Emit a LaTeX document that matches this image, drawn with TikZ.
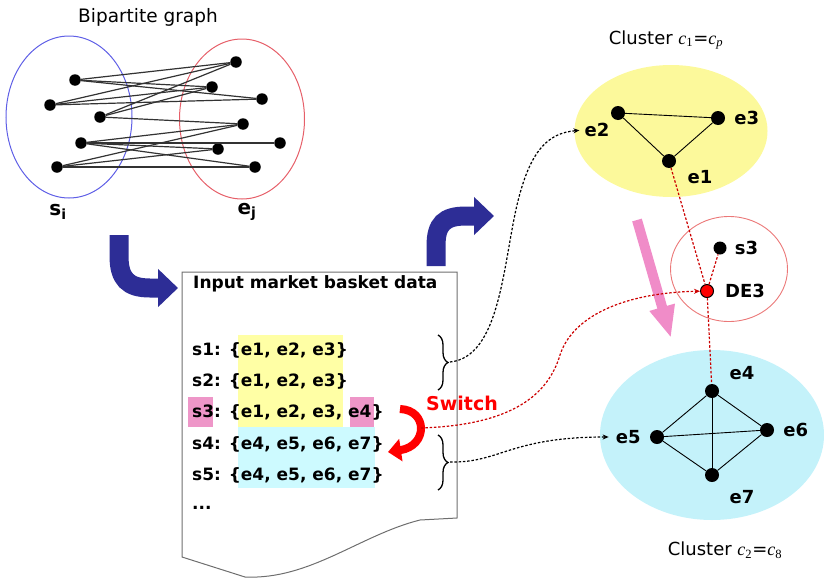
\documentclass[tikz,border=0pt]{standalone}
\usepackage{fontspec}
\setmainfont{DejaVu Sans}
\newfontfamily\symfont{Liberation Serif}
\newcommand{\csym}[1]{{\symfont\itshape c}\textsubscript{\symfont #1}}
\usepackage{tikz}
\usetikzlibrary{shapes.geometric, arrows.meta, positioning, decorations.pathreplacing, calc}
\definecolor{bigblue}{RGB}{45,45,150}
\definecolor{setblue}{RGB}{95,95,230}
\definecolor{setred}{RGB}{230,95,105}
\definecolor{clyellow}{RGB}{252,249,155}
\definecolor{clcyan}{RGB}{196,242,250}
\definecolor{hlyellow}{RGB}{255,255,165}
\definecolor{hlcyan}{RGB}{205,250,255}
\definecolor{hlpink}{RGB}{238,150,200}
\definecolor{pinkarrow}{RGB}{240,140,200}
\definecolor{ringred}{RGB}{235,120,120}
\definecolor{docgray}{RGB}{110,110,110}

\begin{document}
\begin{tikzpicture}[
    x=1pt, y=-1pt,
    every node/.style={font=\fontsize{17}{19}\selectfont},
    dot/.style={circle, fill=black, inner sep=0pt, minimum size=11.5pt},
    bigdot/.style={circle, fill=black, inner sep=0pt, minimum size=14pt},
    lbl/.style={font=\fontsize{18}{20}\selectfont\bfseries, inner sep=1pt},
    row/.style={font=\fontsize{17}{19}\selectfont\bfseries, anchor=west, inner sep=0pt},
    heading/.style={font=\fontsize{18}{20}\selectfont},
    blkdash/.style={-{Stealth[length=6pt,width=5pt]}, dash pattern=on 2.5pt off 1.8pt, line width=1.2pt},
    reddash/.style={red!80!black, dash pattern=on 2.5pt off 1.8pt, line width=1.2pt},
    fatarrow/.style={bigblue, line width=19pt, -{Triangle[length=20pt,width=37pt]}},
    brc/.style={decorate, decoration={brace, amplitude=10pt}, line width=1.3pt}
]
\useasboundingbox (0,0) rectangle (824,581);

% Bipartite graph
\node[heading, font=\fontsize{18.5}{20}\selectfont] (bptitle) at (148,17) {Bipartite graph};
\node[ellipse, draw=setblue, line width=1pt, minimum width=126pt, minimum height=162pt] (sset) at (69,117) {};
\node[ellipse, draw=setred, line width=1pt, minimum width=125pt, minimum height=160pt] (eset) at (242,119) {};
\node[dot] (u1) at (75,80) {};
\node[dot] (u2) at (50,105) {};
\node[dot] (u3) at (100,117) {};
\node[dot] (u4) at (81,143) {};
\node[dot] (u5) at (57,167) {};
\node[dot] (v1) at (236,62) {};
\node[dot] (v2) at (212,87) {};
\node[dot] (v3) at (262,99) {};
\node[dot] (v4) at (243,124) {};
\node[dot] (v5) at (218,149) {};
\node[dot] (v6) at (280,143) {};
\node[dot] (v7) at (255,167) {};
\foreach \a/\b in {u1/v1, u1/v2, u1/v3, u2/v1, u2/v2, u2/v3, u3/v1, u3/v2, u3/v4,
                   u4/v4, u4/v5, u4/v6, u4/v7, u5/v4, u5/v5, u5/v7}
  \draw[black!80, line width=1.2pt] (\a) -- (\b);
\node[font=\fontsize{20}{22}\selectfont\bfseries] (slbl) at (58,212) {s\textsubscript{i}};
\node[font=\fontsize{20}{22}\selectfont\bfseries] (elbl) at (247,212) {e\textsubscript{j}};

% Document
\coordinate (dtl) at (182,272);
\coordinate (dtr) at (457,272);
\draw[docgray, line width=1pt] (dtl) -- (dtr) -- (457,518) -- (420,520)
    .. controls (360,535) and (310,580) .. (245,577) -- (182,557) -- cycle;
\fill[hlyellow] (238,335) rectangle (343,427);
\fill[hlcyan] (238,427) rectangle (375,488);
\fill[hlpink] (188,397) rectangle (213,427);
\fill[hlpink] (350,397) rectangle (374,427);
\node[row] (doctitle) at (193,284) {Input market basket data};
\node[row] (r1) at (192,350) {s1: \{e1, e2, e3\}};
\node[row] (r2) at (192,381) {s2: \{e1, e2, e3\}};
\node[row] (r3) at (192,412) {s3: \{e1, e2, e3, e4\}};
\node[row] (r4) at (192,444) {s4: \{e4, e5, e6, e7\}};
\node[row] (r5) at (192,475) {s5: \{e4, e5, e6, e7\}};
\node[row] (rdots) at (192,508) {...};
\draw[brc] (438,335) -- (438,390);
\draw[brc] (438,435) -- (438,490);
\coordinate (b1) at (450,362);
\coordinate (b2) at (450,462);

% Big arrows
\coordinate (bpout) at (119,235);
\coordinate (docin) at (178,288);
\draw[fatarrow] (bpout) -- (119,256) .. controls (119,279) and (128,288) .. (150,288) -- (docin);
\coordinate (docout) at (436,266);
\coordinate (clin) at (494,216);
\draw[fatarrow] (docout) -- (436,246) .. controls (436,224) and (444,216) .. (466,216) -- (clin);
\coordinate (swin) at (400,409);
\coordinate (swout) at (388,452);
\draw[red, line width=8pt, -{Triangle[length=13pt,width=22pt]}] (swin) .. controls (428,410) and (428,446) .. (swout);
\node[text=red, font=\fontsize{19}{21}\selectfont\bfseries] (switch) at (462,403) {Switch};

% Cluster c1
\node[ellipse, fill=clyellow, minimum width=193pt, minimum height=132pt] (c1) at (671,131) {};
\node[heading] (c1title) at (666,40) {Cluster \csym{1}={\symfont\itshape c}\textsubscript{\symfont\itshape p}};
\node[bigdot] (e1) at (669,161) {};
\node[bigdot] (e2) at (618,113) {};
\node[bigdot] (e3) at (718,118) {};
\draw[line width=0.9pt] (e1) -- (e2) -- (e3) -- (e1);
\node[lbl] (e1t) at (700,177) {e1};
\node[lbl] (e2t) at (597,130) {e2};
\node[lbl, right=8pt of e3] (e3t) {e3};

% Cluster c2
\node[ellipse, fill=clcyan, minimum width=224pt, minimum height=170pt] (c2) at (712,435) {};
\node[heading] (c2title) at (725,550) {Cluster \csym{2}=\csym{8}};
\node[bigdot] (e4) at (712,391) {};
\node[bigdot] (e5) at (657,437) {};
\node[bigdot] (e6) at (767,430) {};
\node[bigdot] (e7) at (712,475) {};
\foreach \a/\b in {e4/e5, e4/e6, e4/e7, e5/e6, e5/e7, e6/e7}
  \draw[line width=0.9pt] (\a) -- (\b);
\node[lbl] (e4t) at (742,373) {e4};
\node[lbl, left=8pt of e5] (e5t) {e5};
\node[lbl, right=8pt of e6] (e6t) {e6};
\node[lbl] (e7t) at (742,497) {e7};

% Duplicated element DE3
\node[ellipse, draw=ringred, line width=0.9pt, minimum width=117pt, minimum height=105pt] (ring) at (729,269) {};
\node[dot, minimum size=13pt] (s3) at (720,248) {};
\node[lbl, right=7pt of s3] (s3t) {s3};
\node[circle, fill=red, draw=black, line width=1pt, inner sep=0pt, minimum size=13pt] (de3) at (707,291) {};
\node[lbl, right=10pt of de3] (de3t) {DE3};
\draw[pinkarrow, line width=10pt, -{Triangle[length=32pt,width=24pt]}] (637,220) -- (671,338);

% Connectors
\draw[reddash] (e1) -- (de3);
\draw[reddash] (de3) -- (s3);
\draw[reddash] (de3) -- (e4);
\coordinate (swR) at (421,428);
\draw[reddash, -{Stealth[length=6pt,width=5pt]}] (swR) .. controls (512,425) and (548,395) .. (560,355)
    .. controls (572,318) and (620,293) .. (de3);
\draw[blkdash, shorten >=4pt] (b1) .. controls (500,357) and (503,265) .. (517,205)
    .. controls (530,150) and (548,133) .. (e2t.west);
\draw[blkdash, shorten >=6pt] (b2) .. controls (500,463) and (510,437) .. (e5t.west);

\end{tikzpicture}
\end{document}
